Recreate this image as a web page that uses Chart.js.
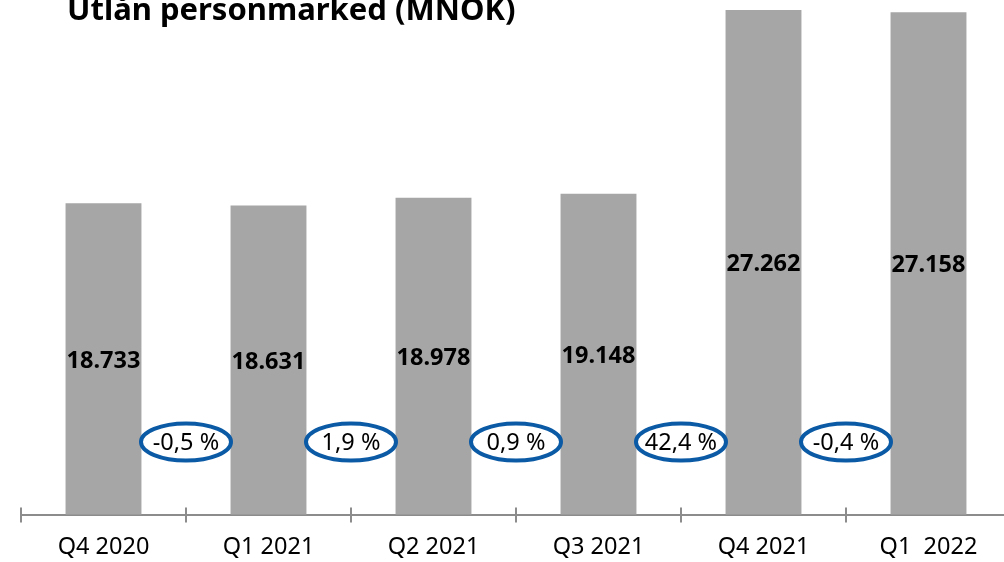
<!DOCTYPE html>
<html>
<head>
<meta charset="utf-8">
<script src="https://cdn.jsdelivr.net/npm/chart.js@4"></script>
<style>
  html, body { margin: 0; padding: 0; overflow: hidden; background: #fff; }
  #wrap { width: 1020px; height: 562px; }
</style>
</head>
<body>
<div id="wrap"><canvas id="bar-chart" width="1020" height="562"></canvas></div>
<script>
var quarters = ["Q4 2020", "Q1 2021", "Q2 2021", "Q3 2021", "Q4 2021", "Q1  2022"];
var lending = [18733, 18631, 18978, 19148, 27262, 27158];
var valueLabels = ["18.733", "18.631", "18.978", "19.148", "27.262", "27.158"];
var changeLabels = ["-0,5 %", "1,9 %", "0,9 %", "42,4 %", "-0,4 %"];
var changeLevel = 8200;

var fontName = "'Noto Sans', 'Open Sans', sans-serif";

// title, cut at top like the original
var titlePlugin = {
  id: "titleText",
  afterDraw: function(chart) {
    var ctx = chart.ctx;
    ctx.save();
    ctx.fillStyle = "#000";
    ctx.font = "bold 31px " + fontName;
    ctx.textAlign = "left";
    ctx.textBaseline = "alphabetic";
    ctx.fillText("Utlån personmarked (MNOK)", 67, 20);
    ctx.restore();
  }
};

// value inside each bar (centred on the visible part)
var barLabels = {
  id: "barLabels",
  afterDatasetsDraw: function(chart) {
    var ctx = chart.ctx;
    var meta = chart.getDatasetMeta(0);
    var bottom = chart.chartArea.bottom;
    ctx.save();
    ctx.fillStyle = "#000";
    ctx.font = "bold 23.5px " + fontName;
    ctx.textAlign = "center";
    ctx.textBaseline = "middle";
    meta.data.forEach(function(bar, i) {
      var base = Math.min(bar.base, bottom);
      ctx.fillText(valueLabels[i], bar.x, (bar.y + base) / 2 + 2);
    });
    ctx.restore();
  }
};

// axis ticks crossing the line + change ellipses
var axisAndChanges = {
  id: "axisAndChanges",
  afterDraw: function(chart) {
    var ctx = chart.ctx;
    var xs = chart.scales.x;
    var ys = chart.scales.y;
    var step = xs.getPixelForValue(1) - xs.getPixelForValue(0);
    var axisY = chart.chartArea.bottom;
    ctx.save();
    ctx.strokeStyle = "#8c8c8c";
    ctx.lineWidth = 2;
    for (var i = 0; i <= quarters.length; i++) {
      var bx = xs.getPixelForValue(0) - step / 2 + i * step;
      ctx.beginPath();
      ctx.moveTo(bx, axisY - 7);
      ctx.lineTo(bx, axisY + 8);
      ctx.stroke();
    }
    var ey = ys.getPixelForValue(changeLevel);
    for (var j = 0; j < changeLabels.length; j++) {
      var ex = (xs.getPixelForValue(j) + xs.getPixelForValue(j + 1)) / 2;
      ctx.beginPath();
      ctx.ellipse(ex, ey, 45, 18.5, 0, 0, Math.PI * 2);
      ctx.fillStyle = "#fff";
      ctx.fill();
      ctx.lineWidth = 4;
      ctx.strokeStyle = "#0b5aa5";
      ctx.stroke();
      ctx.fillStyle = "#000";
      ctx.font = "23.5px " + fontName;
      ctx.textAlign = "center";
      ctx.textBaseline = "middle";
      ctx.fillText(changeLabels[j], ex, ey + 1);
    }
    ctx.restore();
  }
};

var bc = document.getElementById("bar-chart").getContext("2d");
var myChart = new Chart(bc, {
  type: "bar",
  data: {
    labels: quarters,
    datasets: [{
      label: "",
      data: lending,
      backgroundColor: "#a6a6a6",
      borderWidth: 0,
      categoryPercentage: 1,
      barPercentage: 0.46
    }]
  },
  options: {
    responsive: false,
    animation: false,
    layout: { padding: { left: 21, right: 9, top: 0, bottom: 0 } },
    plugins: {
      legend: { display: false },
      tooltip: { enabled: false }
    },
    scales: {
      x: {
        grid: { display: false, drawTicks: true, tickLength: 18 },
        border: { display: true, color: "#8c8c8c", width: 2 },
        ticks: {
          color: "#000",
          padding: 3,
          maxRotation: 0,
          autoSkip: false,
          font: { family: fontName, size: 23.5, lineHeight: 1 }
        }
      },
      y: {
        display: false,
        min: 5000,
        max: 27700
      }
    }
  },
  plugins: [barLabels, axisAndChanges, titlePlugin]
});
</script>
</body>
</html>
